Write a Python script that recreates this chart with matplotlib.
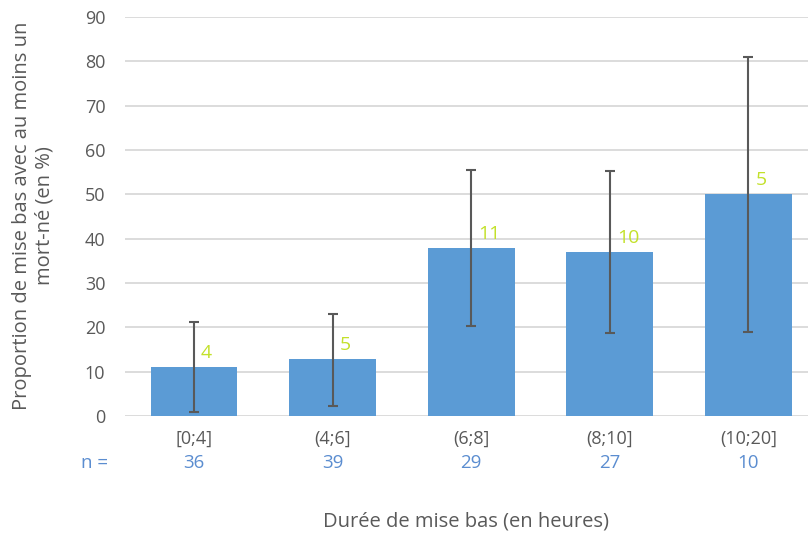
import matplotlib
matplotlib.use("Agg")
import matplotlib.pyplot as plt
import numpy as np

plt.rcParams['font.family'] = ['Open Sans', 'DejaVu Sans']

categories = ["[0;4]", "(4;6]", "(6;8]", "(8;10]", "(10;20]"]
proportions = [11.0, 12.9, 37.9, 37.0, 50.0]
ci_low = [0.8, 2.3, 20.3, 18.7, 18.9]
ci_high = [21.2, 23.0, 55.4, 55.2, 80.9]
counts_stillborn = ["4", "5", "11", "10", "5"]
n_values = ["36", "39", "29", "27", "10"]
yticks = [0, 10, 20, 30, 40, 50, 60, 70, 80, 90]

bar_color = "#5B9BD5"
err_color = "#595959"
label_green = "#C3E12A"
n_blue = "#5B8DD0"
text_gray = "#595959"
grid_gray = "#D9D9D9"

W, H = 808, 539
fig = plt.figure(figsize=(W / 100, H / 100), dpi=100)
ax = fig.add_axes([124.7 / W, 1 - 416 / H, 693 / W, 399 / H])

x = np.arange(len(categories))
ax.bar(x, proportions, width=0.625, color=bar_color, zorder=2)
yerr = np.array([[p - l for p, l in zip(proportions, ci_low)],
                 [h - p for p, h in zip(proportions, ci_high)]])
ax.errorbar(x, proportions, yerr=yerr, fmt='none', ecolor=err_color,
            elinewidth=1.5, capsize=3.8, capthick=1.5, zorder=3)

for xi, p, lab in zip(x, proportions, counts_stillborn):
    ax.annotate(lab, (xi, p), xytext=(5, 10), textcoords='offset points',
                ha='left', va='center', color=label_green, fontsize=14, zorder=4)

ax.set_xlim(-0.5, len(categories) - 0.5)
ax.set_ylim(0, 90)
ax.set_yticks(yticks)
ax.set_yticklabels([str(t) for t in yticks])
ax.set_xticks(x)
ax.set_xticklabels(categories)
ax.tick_params(axis='both', length=0, colors=text_gray, labelsize=13)
ax.tick_params(axis='y', pad=14)
ax.tick_params(axis='x', pad=10)
ax.grid(axis='y', color=grid_gray, linewidth=1.3, zorder=0)
ax.set_axisbelow(True)
for s in ax.spines.values():
    s.set_visible(False)

# n row
for xi, nv in zip(x, n_values):
    ax.text(xi, -0.117, nv, transform=ax.get_xaxis_transform(), ha='center', va='center',
            color=n_blue, fontsize=13.5)
ax.text(-0.72, -0.117, "n =", transform=ax.get_xaxis_transform(), ha='center', va='center',
        color=n_blue, fontsize=13.5)

fig.text(466 / W, 1 - 522 / H, "Durée de mise bas (en heures)", ha='center', va='center',
         color=text_gray, fontsize=14.5)
fig.text(33 / W, 1 - 216 / H, "Proportion de mise bas avec au moins un\nmort-né (en %)",
         ha='center', va='center', rotation=90, color=text_gray, fontsize=14.5,
         linespacing=1.15)

fig.savefig("out.png", dpi=100)
